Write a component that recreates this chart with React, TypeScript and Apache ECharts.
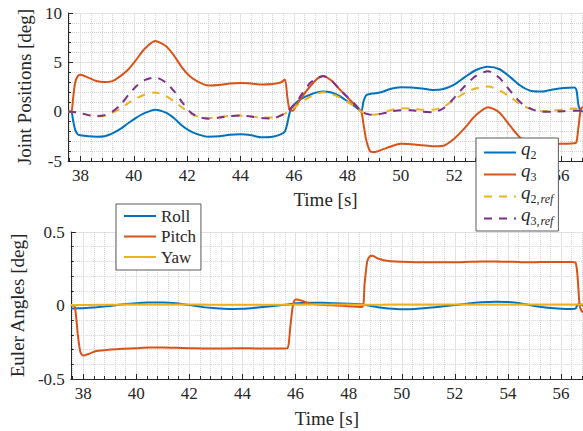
import React, { useEffect, useRef } from "react";
import * as echarts from "echarts";

// ---- Top plot data (Joint positions) ----
const tTop = [
  37.54, 37.66, 37.72, 37.8, 37.9, 38.0, 38.3, 38.6, 38.9, 39.2,
  39.5, 39.8, 40.1, 40.4, 40.8, 41.2, 41.5, 41.8, 42.1, 42.4,
  42.8, 43.2, 43.6, 44.0, 44.4, 44.8, 45.2, 45.5, 45.66, 45.75,
  45.84, 45.95, 46.1, 46.3, 46.6, 46.9, 47.1, 47.4, 47.7, 48.0,
  48.3, 48.52, 48.6, 48.7, 48.85, 49.0, 49.3, 49.6, 50.0, 50.4,
  50.8, 51.2, 51.6, 52.0, 52.4, 52.8, 53.27, 53.7, 54.1, 54.5,
  54.9, 55.3, 55.7, 56.1, 56.5, 56.58, 56.66, 56.75, 56.85,
];
const q2 = [
  0, 0, -0.8, -1.8, -2.3, -2.4, -2.5, -2.55, -2.5, -2.2,
  -1.75, -1.15, -0.6, -0.15, 0.2, -0.1, -0.65, -1.4, -1.95, -2.3,
  -2.55, -2.5, -2.35, -2.3, -2.4, -2.6, -2.55, -2.3, -2.0, -1.2,
  -0.1, 0.55, 0.95, 1.35, 1.72, 1.98, 2.05, 1.95, 1.6, 1.05,
  0.5, 0, 1.0, 1.65, 1.8, 1.85, 2.0, 2.3, 2.48, 2.45,
  2.35, 2.2, 2.3, 2.75, 3.5, 4.2, 4.55, 4.3, 3.5, 2.6,
  2.1, 2.05, 2.25, 2.4, 2.45, 2.2, 0.6, 0.1, 0.0,
];
const q3 = [
  0, 0, 1.2, 2.9, 3.6, 3.75, 3.45, 3.1, 3.0, 3.1,
  3.6, 4.3, 5.3, 6.35, 7.15, 6.65, 5.7, 4.5, 3.6, 3.05,
  2.65, 2.7, 2.85, 2.9, 2.85, 2.75, 2.8, 2.95, 3.25, 1.5,
  0.15, 0.1, 0.7, 1.5, 2.55, 3.4, 3.62, 3.15, 2.3, 1.45,
  0.65, 0, -1.2, -2.8, -4.0, -4.1, -3.85, -3.55, -3.25, -3.3,
  -3.4, -3.5, -3.45, -2.75, -1.65, -0.4, 0.45, -0.1, -1.45, -2.7,
  -3.2, -3.38, -3.3, -3.25, -3.2, -3.1, -1.5, 0.3, 0.5,
];
const q2ref = [
  0, 0, -0.02, -0.05, -0.08, -0.12, -0.35, -0.48, -0.45, -0.1,
  0.3, 0.9, 1.35, 1.72, 1.95, 1.6, 1.05, 0.45, -0.15, -0.5,
  -0.65, -0.55, -0.42, -0.4, -0.48, -0.6, -0.6, -0.35, -0.2, -0.05,
  0.1, 0.3, 0.6, 1.0, 1.5, 1.85, 1.97, 1.8, 1.45, 1.0,
  0.5, 0, -0.1, -0.2, -0.28, -0.32, -0.15, 0.15, 0.35, 0.3,
  0.2, 0.2, 0.5, 1.2, 1.9, 2.35, 2.55, 2.15, 1.5, 0.7,
  0.25, 0.05, 0.1, 0.22, 0.32, 0.3, 0.25, 0.2, 0.15,
];
const q3ref = [
  0, 0, -0.02, -0.05, -0.1, -0.15, -0.35, -0.45, -0.35, 0.0,
  0.7, 1.7, 2.6, 3.2, 3.47, 2.95, 2.1, 1.0, 0.0, -0.5,
  -0.72, -0.6, -0.45, -0.4, -0.5, -0.65, -0.7, -0.4, -0.15, 0.05,
  0.25, 0.55, 1.0, 1.8, 2.9, 3.45, 3.6, 3.15, 2.3, 1.5,
  0.7, 0, -0.1, -0.2, -0.3, -0.32, -0.2, 0.0, 0.15, 0.15,
  0.0, -0.05, 0.35, 1.4, 2.6, 3.6, 4.1, 3.4, 2.1, 0.9,
  0.25, 0.0, 0.0, 0.05, 0.1, 0.1, 0.1, 0.1, 0.1,
];

// ---- Bottom plot data (Euler angles) ----
const tBot = [
  37.54, 37.66, 37.72, 37.8, 37.9, 38.0, 38.2, 38.5, 39.0, 39.5,
  40.0, 40.5, 41.0, 41.5, 42.0, 42.5, 43.0, 43.5, 44.0, 44.5,
  45.0, 45.5, 45.7, 45.8, 45.9, 46.0, 46.2, 46.5, 47.0, 47.5,
  48.0, 48.5, 48.6, 48.7, 48.8, 48.9, 49.1, 49.5, 50.0, 50.5,
  51.0, 51.5, 52.0, 52.5, 53.0, 53.5, 54.0, 54.5, 55.0, 55.5,
  56.0, 56.4, 56.55, 56.62, 56.7, 56.78, 56.85,
];
const roll = [
  -0.021, -0.021, -0.02, -0.019, -0.019, -0.018, -0.016, -0.012, -0.003, 0.008,
  0.016, 0.02, 0.021, 0.016, 0.004, -0.011, -0.019, -0.023, -0.022, -0.015,
  -0.006, 0.003, 0.007, 0.01, 0.012, 0.015, 0.017, 0.018, 0.018, 0.015,
  0.012, 0.008, 0.005, 0.002, -0.002, -0.006, -0.012, -0.02, -0.025, -0.023,
  -0.016, -0.007, 0.003, 0.014, 0.022, 0.026, 0.023, 0.013, -0.003, -0.015,
  -0.022, -0.024, -0.02, 0.005, 0.01, 0.005, 0.0,
];
const pitch = [
  0, 0, -0.05, -0.2, -0.32, -0.34, -0.33, -0.31, -0.3, -0.295,
  -0.29, -0.285, -0.285, -0.287, -0.29, -0.292, -0.293, -0.292, -0.29, -0.292,
  -0.293, -0.293, -0.29, -0.15, 0.0, 0.04, 0.035, 0.015, 0.005, 0.0,
  -0.005, -0.01, 0.15, 0.3, 0.335, 0.338, 0.32, 0.302, 0.297, 0.295,
  0.295, 0.295, 0.295, 0.297, 0.3, 0.3, 0.298, 0.295, 0.295, 0.296,
  0.296, 0.296, 0.29, 0.2, 0.0, -0.04, -0.045,
];
const yaw = [
  0.004, 0.004, 0.004, 0.004, 0.004, 0.004, 0.004, 0.005, 0.005, 0.006,
  0.006, 0.007, 0.007, 0.007, 0.006, 0.006, 0.005, 0.005, 0.005, 0.005,
  0.005, 0.005, 0.005, 0.005, 0.006, 0.006, 0.006, 0.006, 0.006, 0.006,
  0.006, 0.005, 0.005, 0.005, 0.005, 0.005, 0.005, 0.006, 0.006, 0.006,
  0.007, 0.007, 0.007, 0.007, 0.007, 0.007, 0.007, 0.007, 0.007, 0.007,
  0.007, 0.007, 0.007, 0.007, 0.007, 0.007, 0.007,
];

// ---- Ticks ----
const xTicks = [38, 40, 42, 44, 46, 48, 50, 52, 54, 56];
const xMinorTicks = [
  37.6, 38.4, 38.8, 39.2, 39.6, 40.4, 40.8, 41.2, 41.6, 42.4, 42.8, 43.2, 43.6,
  44.4, 44.8, 45.2, 45.6, 46.4, 46.8, 47.2, 47.6, 48.4, 48.8, 49.2, 49.6,
  50.4, 50.8, 51.2, 51.6, 52.4, 52.8, 53.2, 53.6, 54.4, 54.8, 55.2, 55.6, 56.4, 56.8,
];
const X_MIN = 37.535;
const X_MAX = 56.826;

const FONT = '"Liberation Serif", "Times New Roman", serif';
const TXT = "#262626";
const C_BLUE = "#0072BD";
const C_ORANGE = "#D95319";
const C_YELLOW = "#EDB120";
const C_PURPLE = "#7E2F8E";
const MAJOR_GRID = "#e2e2e2";
const MINOR_GRID = "#d2d2d2";

const pairs = (t: number[], v: number[]) => t.map((x, i) => [x, v[i]]);

function majorX(gridIndex: number, nameGap: number) {
  return {
    type: "value",
    gridIndex,
    min: X_MIN,
    max: X_MAX,
    position: "bottom",
    name: "Time [s]",
    nameLocation: "middle",
    nameGap,
    nameTextStyle: { fontSize: 19, color: TXT, fontFamily: FONT },
    axisLine: { show: true, onZero: false, lineStyle: { color: TXT, width: 1 } },
    axisTick: { show: true, inside: true, length: 5, customValues: xTicks, lineStyle: { color: TXT } },
    axisLabel: { show: true, customValues: xTicks, fontSize: 17, color: TXT, margin: 6, fontFamily: FONT },
    splitLine: { show: true, lineStyle: { color: MAJOR_GRID, width: 1 } },
    minorTick: { show: false },
    minorSplitLine: { show: false },
  };
}
function minorX(gridIndex: number) {
  return {
    type: "value",
    gridIndex,
    min: X_MIN,
    max: X_MAX,
    position: "bottom",
    axisLine: { show: false, onZero: false },
    axisTick: { show: true, inside: true, length: 3, customValues: xMinorTicks, lineStyle: { color: TXT } },
    axisLabel: { show: false },
    splitLine: { show: true, lineStyle: { color: MINOR_GRID, type: "dotted", width: 1 } },
  };
}
function yAx(gridIndex: number, min: number, max: number, interval: number, name: string, nameGap: number) {
  return {
    type: "value",
    gridIndex,
    min,
    max,
    interval,
    name,
    nameLocation: "middle",
    nameGap,
    nameTextStyle: { fontSize: 19, color: TXT, fontFamily: FONT },
    axisLine: { show: true, onZero: false, lineStyle: { color: TXT, width: 1 } },
    axisTick: { show: true, inside: true, length: 5, lineStyle: { color: TXT } },
    minorTick: { show: true, splitNumber: 5, length: 3, lineStyle: { color: TXT } },
    axisLabel: { fontSize: 17, color: TXT, margin: 6, fontFamily: FONT },
    splitLine: { show: true, lineStyle: { color: MAJOR_GRID, width: 1 } },
    minorSplitLine: { show: true, lineStyle: { color: MINOR_GRID, type: "dotted", width: 1 } },
  };
}

function lineSeries(name: string, x: number, y: number, data: number[][], color: string, dashed: boolean) {
  return {
    type: "line",
    name,
    xAxisIndex: x,
    yAxisIndex: y,
    data,
    symbol: "none",
    showSymbol: false,
    smooth: 0.25,
    lineStyle: { color, width: 2, type: dashed ? [8, 7] : "solid" },
    itemStyle: { color },
    z: 3,
  };
}

const legendNames: Record<string, string> = {
  q2: "{q|q}{n|2}",
  q3: "{q|q}{n|3}",
  q2ref: "{q|q}{n|2,}{r|ref}",
  q3ref: "{q|q}{n|3,}{r|ref}",
};

export default function App() {
  const ref = useRef<HTMLDivElement>(null);
  useEffect(() => {
    const chart = echarts.init(ref.current!, null, { renderer: "svg" });
    const option = {
      animation: false,
      backgroundColor: "#ffffff",
      textStyle: { fontFamily: FONT },
      grid: [
        { left: 68, top: 13, width: 515, height: 148 },
        { left: 68, top: 232, width: 515, height: 147 },
      ],
      xAxis: [majorX(0, 29), minorX(0), majorX(1, 30), minorX(1)],
      yAxis: [
        yAx(0, -5, 10, 5, "Joint Positions [deg]", 29),
        yAx(1, -0.5, 0.5, 0.5, "Euler Angles [deg]", 38),
      ],
      legend: [
        {
          data: ["q2", "q3", "q2ref", "q3ref"],
          orient: "vertical",
          left: 476,
          top: 138,
          itemWidth: 32,
          itemHeight: 12,
          itemGap: 0,
          padding: [1, 5, 4, 7],
          borderColor: "#5a5a5a",
          borderWidth: 1,
          backgroundColor: "#ffffff",
          selectedMode: false,
          itemStyle: { opacity: 0 },
          formatter: (n: string) => legendNames[n] || n,
          textStyle: {
            color: TXT,
            fontFamily: FONT,
            rich: {
              q: { fontSize: 19, fontStyle: "italic", fontFamily: FONT, color: TXT, lineHeight: 17, verticalAlign: "bottom", padding: [0, 0, 3, 0] },
              n: { fontSize: 12, fontFamily: FONT, color: TXT, lineHeight: 12, verticalAlign: "bottom", padding: [0, 0, 0, 0] },
              r: { fontSize: 12, fontStyle: "italic", fontFamily: FONT, color: TXT, lineHeight: 12, verticalAlign: "bottom", padding: [0, 0, 0, 1] },
            },
          },
        },
        {
          data: ["Roll", "Pitch", "Yaw"],
          orient: "vertical",
          left: 116,
          top: 204,
          itemWidth: 32,
          itemHeight: 12,
          itemGap: 0.5,
          padding: [2, 5, 3, 7],
          borderColor: "#5a5a5a",
          borderWidth: 1,
          backgroundColor: "#ffffff",
          selectedMode: false,
          itemStyle: { opacity: 0 },
          textStyle: { color: TXT, fontFamily: FONT, fontSize: 17, lineHeight: 20 },
        },
      ],
      series: [
        lineSeries("q2", 0, 0, pairs(tTop, q2), C_BLUE, false),
        lineSeries("q3", 0, 0, pairs(tTop, q3), C_ORANGE, false),
        lineSeries("q2ref", 0, 0, pairs(tTop, q2ref), C_YELLOW, true),
        lineSeries("q3ref", 0, 0, pairs(tTop, q3ref), C_PURPLE, true),
        lineSeries("Roll", 2, 1, pairs(tBot, roll), C_BLUE, false),
        lineSeries("Pitch", 2, 1, pairs(tBot, pitch), C_ORANGE, false),
        lineSeries("Yaw", 2, 1, pairs(tBot, yaw), C_YELLOW, false),
      ],
    };
    chart.setOption(option as any);
    return () => chart.dispose();
  }, []);
  return (
    <div
      ref={ref}
      style={{ position: "fixed", left: 0, top: 0, width: 583, height: 431, background: "#fff" }}
    />
  );
}
